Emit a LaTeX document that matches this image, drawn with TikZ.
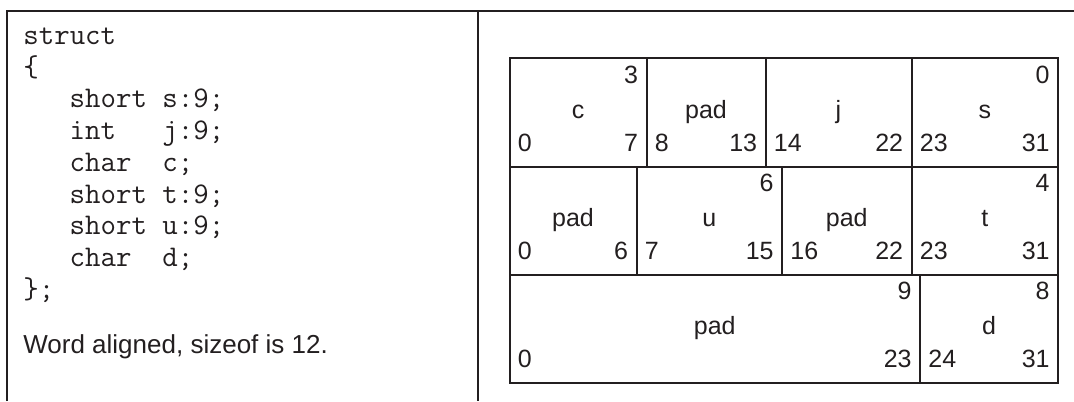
\documentclass[tikz,border=0pt]{standalone}
\usepackage{fontspec}
\newfontfamily\helv{Liberation Sans}
\usetikzlibrary{calc}
\definecolor{inkblack}{HTML}{231F20}

% one bit-field cell: name, left, right, top, label, low bit, high bit
\newcommand{\bitcell}[7]{%
  \node[cell, minimum width={(#3-#2)*0.5pt}, anchor=north west] (#1) at (#2,#4) {};
  \node[celltext, anchor=base] (#1-lbl) at ($(#1.north)+(0,-30.5pt)$) {#5};
  \node[celltext, anchor=base west] (#1-lo) at ($(#1.north west)+(4.5pt,-47pt)$) {#6};
  \node[celltext, anchor=base east] (#1-hi) at ($(#1.north east)+(-4.5pt,-47pt)$) {#7};
}

\begin{document}
\begin{tikzpicture}[
    x=0.5pt, y=-0.5pt,
    frame/.style={draw=inkblack, line width=1pt},
    cell/.style={
        rectangle, draw=inkblack, line width=1pt,
        inner sep=0pt, minimum height=54pt
    },
    celltext/.style={
        inner sep=0pt, text=inkblack, font=\helv\fontsize{12.5pt}{15pt}\selectfont
    },
    codeline/.style={
        inner sep=0pt, anchor=base west, text=inkblack,
        font=\ttfamily\fontsize{15pt}{16pt}\selectfont
    },
    note/.style={
        inner sep=0pt, anchor=base west, text=inkblack,
        font=\helv\fontsize{13pt}{15pt}\selectfont
    }
]
\useasboundingbox (0,0) rectangle (1074,401);

% ==================== FRAME ====================
\draw[frame] (7,401) -- (7,11) -- (1074,11);
\draw[frame] (477.5,11) -- (477.5,401);

% ==================== DECLARATION ====================
\foreach \txt [count=\i] in {
    struct,
    \{,
    \phantom{xxx}short s:9;,
    \phantom{xxx}int\phantom{xxx}j:9;,
    \phantom{xxx}char\phantom{xx}c;,
    \phantom{xxx}short t:9;,
    \phantom{xxx}short u:9;,
    \phantom{xxx}char\phantom{xx}d;,
    \};}
{
    \node[codeline] (code\i) at (23, {44.5+31.7*(\i-1)}) {\txt};
}
\node[note] (sizenote) at (23,353) {Word aligned, sizeof is 12.};

% ==================== LAYOUT: ROW 1 ====================
\bitcell{c}{508.5}{645.5}{57.5}{c}{0}{7}
\bitcell{padA}{645.5}{764.5}{57.5}{pad}{8}{13}
\bitcell{j}{764.5}{910.5}{57.5}{j}{14}{22}
\bitcell{s}{910.5}{1057}{57.5}{s}{23}{31}

% ==================== LAYOUT: ROW 2 ====================
\bitcell{padB}{508.5}{635.5}{165.5}{pad}{0}{6}
\bitcell{u}{635.5}{781}{165.5}{u}{7}{15}
\bitcell{padC}{781}{910.5}{165.5}{pad}{16}{22}
\bitcell{t}{910.5}{1057}{165.5}{t}{23}{31}

% ==================== LAYOUT: ROW 3 ====================
\bitcell{padD}{508.5}{919}{273.5}{pad}{0}{23}
\bitcell{d}{919}{1057}{273.5}{d}{24}{31}

% ==================== ORDER NUMBERS ====================
\node[celltext, anchor=base east] (c-top) at ($(c.north east)+(-4.5pt,-13pt)$) {3};
\node[celltext, anchor=base east] (s-top) at ($(s.north east)+(-4.5pt,-13pt)$) {0};
\node[celltext, anchor=base east] (u-top) at ($(u.north east)+(-4.5pt,-13pt)$) {6};
\node[celltext, anchor=base east] (t-top) at ($(t.north east)+(-4.5pt,-13pt)$) {4};
\node[celltext, anchor=base east] (padD-top) at ($(padD.north east)+(-4.5pt,-13pt)$) {9};
\node[celltext, anchor=base east] (d-top) at ($(d.north east)+(-4.5pt,-13pt)$) {8};

\end{tikzpicture}
\end{document}
